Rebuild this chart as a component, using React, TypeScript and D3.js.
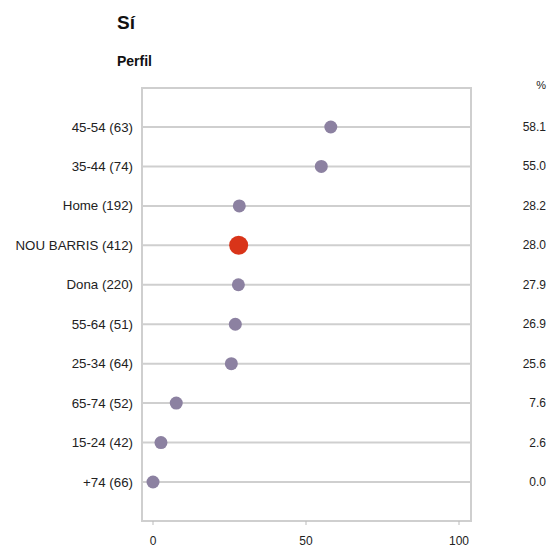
import React from "react";
import * as d3 from "d3";

const categories = ["45-54 (63)", "35-44 (74)", "Home (192)", "NOU BARRIS (412)", "Dona (220)", "55-64 (51)", "25-34 (64)", "65-74 (52)", "15-24 (42)", "+74 (66)"];
const values = [58.1, 55.0, 28.2, 28.0, 27.9, 26.9, 25.6, 7.6, 2.6, 0.0];
const highlight = ["NOU BARRIS (412)"];
const xTicks = [0, 50, 100];

const W = 550, H = 549;
const panel = { left: 142, right: 471, top: 88, bottom: 521 };

export default function App() {
  const x = d3.scaleLinear().domain([0, 100]).range([153, 459]);
  const y = d3.scalePoint<string>().domain(categories).range([127, 482]);
  const font = "'Liberation Sans', Arial, sans-serif";
  return (
    <svg width={W} height={H} style={{ position: "absolute", left: 0, top: 0 }} fontFamily={font}>
      <text x={117} y={29} fontSize={19} fontWeight="bold" fill="#111">Sí</text>
      <text x={117} y={66} fontSize={14} fontWeight="bold" fill="#111">Perfil</text>
      <rect x={panel.left} y={panel.top} width={panel.right - panel.left} height={panel.bottom - panel.top} fill="white" stroke="#cfcfcf" strokeWidth={2} />
      {categories.map((c) => (
        <line key={c} x1={panel.left} x2={panel.right} y1={y(c)} y2={y(c)} stroke="#cfcfcf" strokeWidth={2} />
      ))}
      {xTicks.map((t) => (
        <g key={t}>
          <line x1={x(t)} x2={x(t)} y1={panel.bottom} y2={panel.bottom + 4} stroke="#bbb" strokeWidth={1} />
          <text x={x(t)} y={545} fontSize={12} textAnchor="middle" fill="#222">{t}</text>
        </g>
      ))}
      {categories.map((c) => (
        <text key={c} x={133} y={(y(c) as number) + 4.5} fontSize={13.3} textAnchor="end" fill="#222">{c}</text>
      ))}
      {categories.map((c, i) => {
        const hi = highlight.includes(c);
        return <circle key={c} cx={x(values[i])} cy={y(c)} r={hi ? 9.5 : 6.5} fill={hi ? "#d93419" : "#8c81a1"} />;
      })}
      <text x={546} y={89} fontSize={11} textAnchor="end" fill="#222">%</text>
      {categories.map((c, i) => (
        <text key={c} x={546} y={(y(c) as number) + 4} fontSize={12} textAnchor="end" fill="#222">{values[i].toFixed(1)}</text>
      ))}
    </svg>
  );
}
